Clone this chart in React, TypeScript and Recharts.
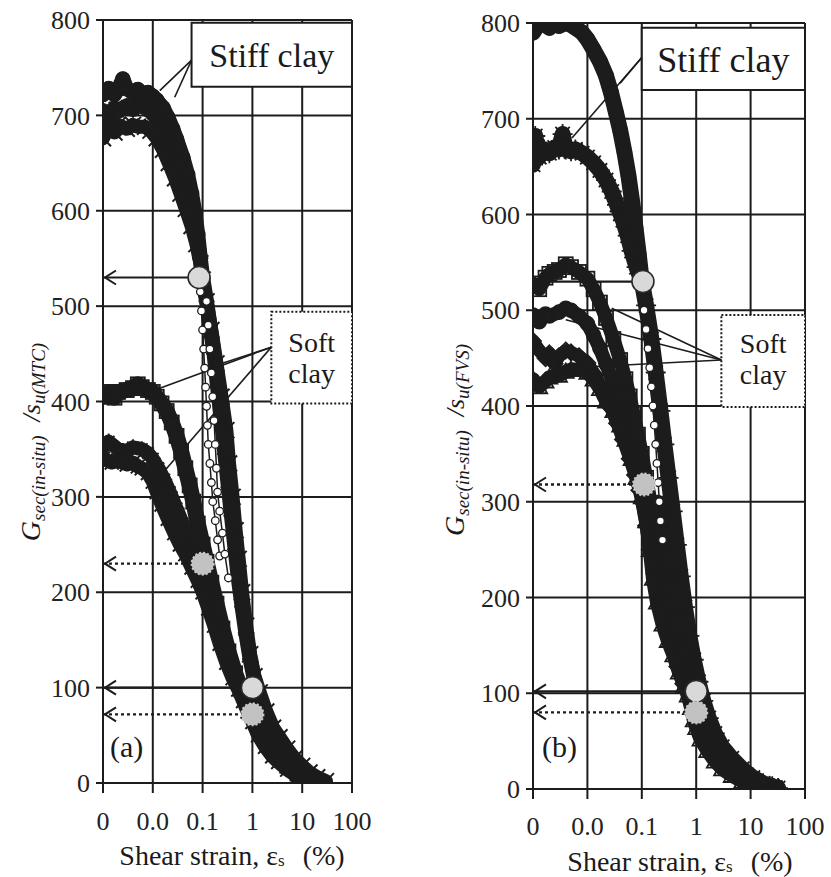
import React from 'react';
import { ComposedChart, Line, XAxis, YAxis, CartesianGrid, ReferenceArea } from 'recharts';

type P = [number, number];

// ---------- axes ----------
const xTicks = [0.001, 0.01, 0.1, 1, 10, 100];
const xTickLabels = ['0', '0.0', '0.1', '1', '10', '100'];
const yTicks = [0, 100, 200, 300, 400, 500, 600, 700, 800];

// ---------- panel (a) : normalised by su(MTC) ----------
const aStiffTop: P[] = [[0.001,722],[0.0013,728],[0.0017,722],[0.002,727],[0.0025,738],[0.003,728],[0.004,724],[0.005,727],[0.006,722],[0.008,724],[0.01,720],[0.012,716],[0.016,708],[0.02,698],[0.025,686],[0.03,675],[0.04,656],[0.05,638],[0.06,618],[0.07,598],[0.08,575],[0.09,550]];
const aStiffMid: P[] = [[0.001,705],[0.0013,700],[0.0017,708],[0.002,704],[0.003,710],[0.004,706],[0.005,712],[0.007,708],[0.01,702],[0.013,694],[0.017,682],[0.022,668],[0.03,650],[0.04,632],[0.05,615],[0.06,598],[0.075,575],[0.09,550],[0.1,530],[0.12,505],[0.14,480],[0.17,450],[0.2,415],[0.24,380],[0.28,345],[0.33,310],[0.38,280],[0.45,245],[0.52,215],[0.62,185],[0.75,155],[0.9,130],[1.1,108],[1.4,88],[1.8,70],[2.5,55],[3.5,42],[5,30],[7,20],[10,13],[15,7],[22,3]];
const aStiffLow: P[] = [[0.001,676],[0.0013,688],[0.0017,682],[0.002,690],[0.003,686],[0.004,690],[0.005,688],[0.007,688],[0.009,684],[0.012,676],[0.016,664],[0.021,650],[0.028,634],[0.036,618],[0.046,602],[0.06,584],[0.075,565],[0.09,545],[0.1,528],[0.12,505],[0.15,475],[0.19,440],[0.24,405],[0.3,370],[0.34,335],[0.4,300],[0.46,265],[0.53,235],[0.62,200],[0.75,165],[0.9,135],[1.1,112],[1.4,95],[1.9,75],[2.6,58],[3.5,48],[5,36],[7,26],[10,18],[14,11],[20,6],[30,2]];
const aChainA: P[] = [[0.09,515],[0.095,495],[0.1,475],[0.105,455],[0.11,435],[0.115,415],[0.12,395],[0.125,375],[0.13,355],[0.14,335],[0.15,315],[0.16,295],[0.18,275],[0.2,255],[0.22,238]];
const aChainB: P[] = [[0.12,505],[0.13,480],[0.14,455],[0.15,430],[0.16,405],[0.17,380],[0.18,355],[0.19,330],[0.2,305],[0.22,285],[0.25,262],[0.28,240],[0.33,215]];
const aSoftSquare: P[] = [[0.001,405],[0.0013,410],[0.0017,404],[0.002,410],[0.003,412],[0.004,414],[0.005,418],[0.006,415],[0.008,412],[0.01,410],[0.012,405],[0.015,398],[0.019,390],[0.024,378],[0.03,364],[0.037,348],[0.045,330],[0.055,312],[0.065,295],[0.08,272],[0.1,250],[0.12,232],[0.15,210],[0.19,188],[0.25,162],[0.33,138],[0.45,115],[0.6,98],[0.8,85],[1,75],[1.3,62],[1.8,48],[2.5,36],[3.5,27],[5,18],[8,10],[13,5],[20,2]];
const aSoftMid: P[] = [[0.001,352],[0.0013,358],[0.002,350],[0.003,348],[0.004,352],[0.006,350],[0.008,346],[0.01,340],[0.013,330],[0.017,318],[0.022,305],[0.03,288],[0.04,272],[0.055,255],[0.07,242],[0.09,228],[0.12,210],[0.16,188],[0.21,165],[0.28,145],[0.38,122],[0.5,105],[0.65,90],[0.85,78],[1,70],[1.3,57],[1.8,44],[2.5,33],[3.5,24],[5,16],[8,9],[13,4],[20,2]];
const aSoftLow: P[] = [[0.001,340],[0.0015,336],[0.002,338],[0.003,334],[0.004,336],[0.005,332],[0.006,330],[0.008,325],[0.01,316],[0.012,305],[0.015,292],[0.02,277],[0.027,262],[0.035,250],[0.045,240],[0.06,226],[0.08,212],[0.1,200],[0.13,183],[0.17,165],[0.22,146],[0.3,126],[0.4,110],[0.52,98],[0.65,86],[0.8,75],[1,64],[1.3,50],[1.8,38],[2.5,28],[3.3,22],[5,14],[8,7],[11,4],[16,2]];

// reference points (a)
const aSolidMarks: P[] = [[0.085,530],[1,100]];
const aDottedMarks: P[] = [[0.1,230],[1,72]];

// ---------- panel (b) : normalised by su(FVS) ----------
const bStiffTop: P[] = [[0.001,790],[0.0012,797],[0.0015,800],[0.002,795],[0.0025,800],[0.003,797],[0.004,800],[0.005,798],[0.006,795],[0.008,790],[0.01,783],[0.013,772],[0.017,760],[0.022,745],[0.027,728],[0.033,708],[0.04,688],[0.048,665],[0.057,640],[0.067,612],[0.077,585],[0.088,558],[0.1,530]];
const bStiffStar: P[] = [[0.001,652],[0.0011,682],[0.0013,660],[0.0016,668],[0.002,664],[0.0025,670],[0.003,668],[0.0035,684],[0.004,668],[0.005,666],[0.006,668],[0.008,664],[0.01,660],[0.013,654],[0.017,646],[0.022,636],[0.028,624],[0.035,610],[0.045,594],[0.055,578],[0.065,562],[0.08,545],[0.1,530],[0.12,505],[0.15,470],[0.18,435],[0.22,395],[0.26,360],[0.31,325],[0.37,290],[0.44,255],[0.52,222],[0.62,190],[0.75,160],[0.9,135],[1.1,112],[1.35,92],[1.7,74],[2.2,58],[3,44],[4.5,32],[7,21],[11,12],[17,6],[25,3],[32,1]];
const bChain: P[] = [[0.11,500],[0.12,480],[0.13,460],[0.14,440],[0.15,420],[0.16,400],[0.17,380],[0.18,360],[0.19,340],[0.2,320],[0.21,300],[0.22,280],[0.24,260]];
const bStiffTail: P[] = [[0.2,300],[0.22,280],[0.26,250],[0.32,220],[0.4,190],[0.5,160],[0.62,135],[0.78,115],[1,100],[1.3,82],[1.7,65],[2.3,50],[3.2,37],[4.5,27],[7,17],[11,9],[18,4],[28,1]];
const bSoftSquare: P[] = [[0.001,528],[0.0013,522],[0.0017,534],[0.002,538],[0.0025,540],[0.003,542],[0.004,548],[0.005,545],[0.007,540],[0.01,533],[0.013,522],[0.017,508],[0.022,492],[0.03,470],[0.04,448],[0.05,428],[0.06,410],[0.07,392],[0.085,370],[0.1,350],[0.12,325],[0.15,295],[0.2,260],[0.27,222],[0.36,190],[0.48,158],[0.62,130],[0.8,108],[1,90],[1.3,72],[1.8,55],[2.5,40],[3.5,30],[5,21],[8,12],[13,6],[20,3],[28,1]];
const bSoftCircle: P[] = [[0.001,495],[0.0013,488],[0.0017,496],[0.002,494],[0.003,498],[0.004,502],[0.005,500],[0.007,494],[0.01,486],[0.013,474],[0.017,460],[0.022,444],[0.03,424],[0.04,404],[0.05,386],[0.065,364],[0.08,344],[0.1,325],[0.12,305],[0.15,278],[0.2,245],[0.27,210],[0.36,180],[0.48,150],[0.62,125],[0.8,102],[1,86],[1.3,68],[1.8,52],[2.5,38],[3.5,27],[5,18],[8,10],[13,5],[20,2]];
const bSoftDiamond: P[] = [[0.001,468],[0.0013,458],[0.0017,450],[0.002,455],[0.0025,444],[0.003,452],[0.004,458],[0.005,456],[0.007,452],[0.01,445],[0.014,432],[0.02,415],[0.027,398],[0.035,382],[0.045,365],[0.06,345],[0.075,328],[0.09,312],[0.1,300],[0.12,275],[0.14,250],[0.17,225],[0.21,200],[0.27,175],[0.35,150],[0.45,128],[0.58,110],[0.75,95],[0.95,80],[1.2,65],[1.6,50],[2.2,37],[3,27],[4.5,18],[7,10],[11,5],[18,2]];
const bSoftTriangle: P[] = [[0.001,428],[0.0013,420],[0.0017,426],[0.002,430],[0.003,432],[0.004,436],[0.005,438],[0.007,438],[0.01,435],[0.013,428],[0.017,418],[0.022,405],[0.03,395],[0.04,380],[0.05,365],[0.065,345],[0.08,325],[0.1,305],[0.12,280],[0.14,250],[0.16,220],[0.19,195],[0.24,172],[0.3,155],[0.38,140],[0.48,122],[0.6,108],[0.7,98],[0.8,85],[0.9,72],[1,64],[1.2,52],[1.6,40],[2.2,29],[3,21],[4.5,14],[7,8],[12,4],[20,1]];

// reference points (b)
const bSolidMarks: P[] = [[0.105,530],[1,102]];
const bDottedMarks: P[] = [[0.11,318],[1,80]];

// ---------- annotation anchors ----------
const aStiffLeaders: P[][] = [[[0.06,758],[0.0138,726]], [[0.06,758],[0.0275,719]]];
const aSoftLeaders: P[][] = [[[2.4,457],[0.0138,414]], [[2.4,457],[0.25,440]], [[2.4,457],[0.0158,325]]];
const bStiffLeaders: P[][] = [[[0.1,764],[0.04,737]], [[0.1,764],[0.0052,680]]];
const bSoftLeaders: P[][] = [[[2.9,448],[0.028,502]], [[2.9,448],[0.004,490]], [[2.9,448],[0.0052,440]]];

const INK = '#1c1c1c';
const FONT = '"Liberation Serif", "Times New Roman", serif';

const toData = (pts: P[]) => pts.map(([x, y]) => ({ x, y }));

function marker(shape: string, cx: number, cy: number, s: number, key: string) {
  if (cx == null || cy == null || Number.isNaN(cx) || Number.isNaN(cy)) return <g key={key} />;
  const k = s * 0.72;
  switch (shape) {
    case 'circle':
      return <circle key={key} cx={cx} cy={cy} r={s} fill="none" stroke={INK} strokeWidth={1.6} />;
    case 'ocircle':
      return <circle key={key} cx={cx} cy={cy} r={s} fill="#fff" stroke={INK} strokeWidth={1.3} />;
    case 'x':
      return <path key={key} d={`M${cx - s},${cy - s}L${cx + s},${cy + s}M${cx - s},${cy + s}L${cx + s},${cy - s}`} stroke={INK} strokeWidth={2} />;
    case 'star':
      return <path key={key} d={`M${cx - s},${cy}L${cx + s},${cy}M${cx},${cy - s}L${cx},${cy + s}M${cx - k},${cy - k}L${cx + k},${cy + k}M${cx - k},${cy + k}L${cx + k},${cy - k}`} stroke={INK} strokeWidth={1.8} />;
    case 'square':
      return <rect key={key} x={cx - s} y={cy - s} width={2 * s} height={2 * s} fill="none" stroke={INK} strokeWidth={1.8} />;
    case 'triangle':
      return <polygon key={key} points={`${cx},${cy - s} ${cx + s},${cy + s * 0.8} ${cx - s},${cy + s * 0.8}`} fill="none" stroke={INK} strokeWidth={1.8} />;
    case 'diamond':
      return <polygon key={key} points={`${cx},${cy - s} ${cx + s},${cy} ${cx},${cy + s} ${cx - s},${cy}`} fill="none" stroke={INK} strokeWidth={1.8} />;
    default:
      return <circle key={key} cx={cx} cy={cy} r={s} fill={INK} />;
  }
}

type SeriesDef = { id: string; pts: P[]; shape: string; w: number; s: number };

const seriesA: SeriesDef[] = [
  { id: 'aSoftSquare', pts: aSoftSquare, shape: 'square', w: 16, s: 7 },
  { id: 'aSoftMid', pts: aSoftMid, shape: 'star', w: 14, s: 8 },
  { id: 'aSoftLow', pts: aSoftLow, shape: 'x', w: 14, s: 7 },
  { id: 'aStiffTop', pts: aStiffTop, shape: 'circle', w: 15, s: 7 },
  { id: 'aStiffMid', pts: aStiffMid, shape: 'star', w: 15, s: 8 },
  { id: 'aStiffLow', pts: aStiffLow, shape: 'x', w: 14, s: 8 },
  { id: 'aChainA', pts: aChainA, shape: 'ocircle', w: 1.5, s: 3.8 },
  { id: 'aChainB', pts: aChainB, shape: 'ocircle', w: 1.5, s: 3.8 },
];

const seriesB: SeriesDef[] = [
  { id: 'bSoftSquare', pts: bSoftSquare, shape: 'square', w: 14, s: 7 },
  { id: 'bSoftCircle', pts: bSoftCircle, shape: 'circle', w: 14, s: 7 },
  { id: 'bSoftDiamond', pts: bSoftDiamond, shape: 'diamond', w: 13, s: 8 },
  { id: 'bSoftTriangle', pts: bSoftTriangle, shape: 'triangle', w: 14, s: 8 },
  { id: 'bStiffTop', pts: bStiffTop, shape: 'circle', w: 16, s: 7 },
  { id: 'bStiffStar', pts: bStiffStar, shape: 'star', w: 16, s: 10 },
  { id: 'bStiffTail', pts: bStiffTail, shape: 'x', w: 14, s: 7 },
  { id: 'bChain', pts: bChain, shape: 'ocircle', w: 1.5, s: 3.8 },
];

type PanelProps = {
  width: number;
  height: number;
  margin: { top: number; right: number; bottom: number; left: number };
  yWidth: number;
  xHeight: number;
  xTickMargin: number;
  series: SeriesDef[];
  solidArrows: P[];
  dottedArrows: P[];
  stiffBox: [number, number, number, number];
  softBox: [number, number, number, number];
  stiffFont: number;
  softFont: number;
  leaders: P[][];
  softTextOffsets: [number, number];
};

function Panel(p: PanelProps) {
  const arrowLine = (pt: P, dashed: boolean, key: string) => (
    <Line
      key={key}
      data={toData([[0.001, pt[1]], pt])}
      dataKey="y"
      type="linear"
      stroke={INK}
      strokeWidth={dashed ? 2.4 : 2.2}
      strokeDasharray={dashed ? '3 3' : undefined}
      isAnimationActive={false}
      activeDot={false}
      dot={(d: any) =>
        d.index === 0 ? (
          <path key={`${key}-h`} d={`M${d.cx + 13},${d.cy - 7}L${d.cx + 2},${d.cy}L${d.cx + 13},${d.cy + 7}`} fill="none" stroke={INK} strokeWidth={2} />
        ) : (
          <g key={`${key}-e`} />
        )
      }
    />
  );
  const bigMark = (pt: P, solid: boolean, key: string) => (
    <Line
      key={key}
      data={toData([pt])}
      dataKey="y"
      stroke="none"
      isAnimationActive={false}
      activeDot={false}
      dot={(d: any) =>
        solid ? (
          <circle key={`${key}-c`} cx={d.cx} cy={d.cy} r={11} fill="#d9d9d9" stroke="#2a2a2a" strokeWidth={1.6} />
        ) : (
          <circle key={`${key}-c`} cx={d.cx} cy={d.cy} r={11} fill="#c2c2c2" stroke="#c9c9c9" strokeWidth={2} strokeDasharray="2 2" />
        )
      }
    />
  );
  const [sx1, sx2, sy1, sy2] = p.stiffBox;
  const [fx1, fx2, fy1, fy2] = p.softBox;
  return (
    <ComposedChart width={p.width} height={p.height} margin={p.margin}>
      <CartesianGrid stroke={INK} strokeWidth={2} strokeOpacity={1} />
      <XAxis
        dataKey="x"
        type="number"
        scale="log"
        domain={[0.001, 100]}
        allowDataOverflow
        ticks={xTicks}
        interval={0}
        tickFormatter={(v: number) => xTickLabels[xTicks.findIndex((t) => Math.abs(t - v) < t * 1e-6)] ?? ''}
        height={p.xHeight}
        tickSize={10}
        tickMargin={p.xTickMargin}
        axisLine={{ stroke: INK, strokeWidth: 2 }}
        tickLine={{ stroke: INK, strokeWidth: 2 }}
        tick={{ fill: '#222', fontSize: 26, fontFamily: FONT }}
      />
      <YAxis
        dataKey="y"
        type="number"
        domain={[0, 800]}
        allowDataOverflow
        ticks={yTicks}
        interval={0}
        width={p.yWidth}
        tickSize={7}
        tickMargin={6}
        axisLine={{ stroke: INK, strokeWidth: 2 }}
        tickLine={{ stroke: INK, strokeWidth: 2 }}
        tick={{ fill: '#222', fontSize: 26, fontFamily: FONT }}
      />
      <ReferenceArea
        x1={sx1}
        x2={sx2}
        y1={sy1}
        y2={sy2}
        fill="#fff"
        fillOpacity={1}
        stroke={INK}
        strokeWidth={2}
        ifOverflow="visible"
        label={{ value: 'Stiff clay', position: 'center', fontSize: p.stiffFont, fill: '#1a1a1a', fontFamily: FONT }}
      />
      <ReferenceArea
        x1={fx1}
        x2={fx2}
        y1={fy1}
        y2={fy2}
        fill="#fff"
        fillOpacity={1}
        stroke={INK}
        strokeWidth={2}
        strokeDasharray="2 2"
        ifOverflow="visible"
        label={(lp: any) => {
          const vb = lp.viewBox || {};
          const cx = vb.x + vb.width / 2;
          const cy = vb.y + vb.height / 2;
          return (
            <g>
              <text x={cx} y={cy + p.softTextOffsets[0]} textAnchor="middle" fontFamily={FONT} fontSize={p.softFont} fill="#1a1a1a">Soft</text>
              <text x={cx} y={cy + p.softTextOffsets[1]} textAnchor="middle" fontFamily={FONT} fontSize={p.softFont} fill="#1a1a1a">clay</text>
            </g>
          );
        }}
      />
      {p.leaders.map((seg, i) => (
        <Line key={`ld${i}`} data={toData(seg)} dataKey="y" type="linear" stroke={INK} strokeWidth={1.6} dot={false} activeDot={false} isAnimationActive={false} />
      ))}
      {p.series.map((s) => (
        <Line
          key={s.id}
          data={toData(s.pts)}
          dataKey="y"
          type="linear"
          stroke={INK}
          strokeWidth={s.w}
          strokeLinejoin="round"
          strokeLinecap="round"
          isAnimationActive={false}
          activeDot={false}
          dot={(d: any) => marker(s.shape, d.cx, d.cy, s.s, `${s.id}-${d.index}`)}
        />
      ))}
      {p.solidArrows.map((pt, i) => arrowLine(pt, false, `sa${i}`))}
      {p.dottedArrows.map((pt, i) => arrowLine(pt, true, `da${i}`))}
      {p.solidArrows.map((pt, i) => bigMark(pt, true, `sm${i}`))}
      {p.dottedArrows.map((pt, i) => bigMark(pt, false, `dm${i}`))}
    </ComposedChart>
  );
}

function YTitle({ x, y, sub }: { x: number; y: number; sub: string }) {
  return (
    <text transform={`rotate(-90 ${x} ${y})`} x={x} y={y} textAnchor="middle" fontFamily={FONT} fontStyle="italic" fill="#1a1a1a">
      <tspan fontSize={28}>G</tspan>
      <tspan fontSize={19} dy={5}>sec(in-situ)</tspan>
      <tspan fontSize={26} dy={-5} dx={14}>/s</tspan>
      <tspan fontSize={19} dy={5}>{sub}</tspan>
    </text>
  );
}

function XTitle({ x, y, size }: { x: number; y: number; size: number }) {
  return (
    <text x={x} y={y} textAnchor="middle" fontFamily={FONT} fontSize={size} fill="#1a1a1a">
      <tspan>Shear strain, ε</tspan>
      <tspan fontSize={17} dy={1}>s</tspan>
      <tspan dy={-1} dx={18}>(%)</tspan>
    </text>
  );
}

export default function App() {
  return (
    <div style={{ position: 'absolute', left: 0, top: 0, width: 831, height: 877, background: '#fff', overflow: 'hidden' }}>
      <div style={{ position: 'absolute', left: 0, top: 0 }}>
        <Panel
          width={415}
          height={877}
          margin={{ top: 20, right: 63, bottom: 0, left: 0 }}
          yWidth={103}
          xHeight={94}
          xTickMargin={19}
          series={seriesA}
          solidArrows={aSolidMarks}
          dottedArrows={aDottedMarks}
          stiffBox={[0.06, 100, 730, 797]}
          softBox={[2.4, 100, 398, 494]}
          stiffFont={34}
          softFont={28}
          leaders={[...aStiffLeaders, ...aSoftLeaders]}
          softTextOffsets={[-6, 25]}
        />
      </div>
      <div style={{ position: 'absolute', left: 415, top: 0 }}>
        <Panel
          width={416}
          height={877}
          margin={{ top: 23, right: 26, bottom: 0, left: 0 }}
          yWidth={118}
          xHeight={88}
          xTickMargin={18}
          series={seriesB}
          solidArrows={bSolidMarks}
          dottedArrows={bDottedMarks}
          stiffBox={[0.1, 100, 730, 795]}
          softBox={[2.9, 100, 399, 495]}
          stiffFont={36}
          softFont={28}
          leaders={[...bStiffLeaders, ...bSoftLeaders]}
          softTextOffsets={[-8, 23]}
        />
      </div>
      <svg width={831} height={877} style={{ position: 'absolute', left: 0, top: 0, pointerEvents: 'none' }}>
        <YTitle x={40} y={442} sub="u(MTC)" />
        <YTitle x={464} y={440} sub="u(FVS)" />
        <XTitle x={232} y={865} size={28} />
        <XTitle x={680} y={871} size={28} />
        <text x={110} y={757} fontFamily={FONT} fontSize={30} fill="#1a1a1a">(a)</text>
        <text x={542} y={757} fontFamily={FONT} fontSize={30} fill="#1a1a1a">(b)</text>
      </svg>
    </div>
  );
}
